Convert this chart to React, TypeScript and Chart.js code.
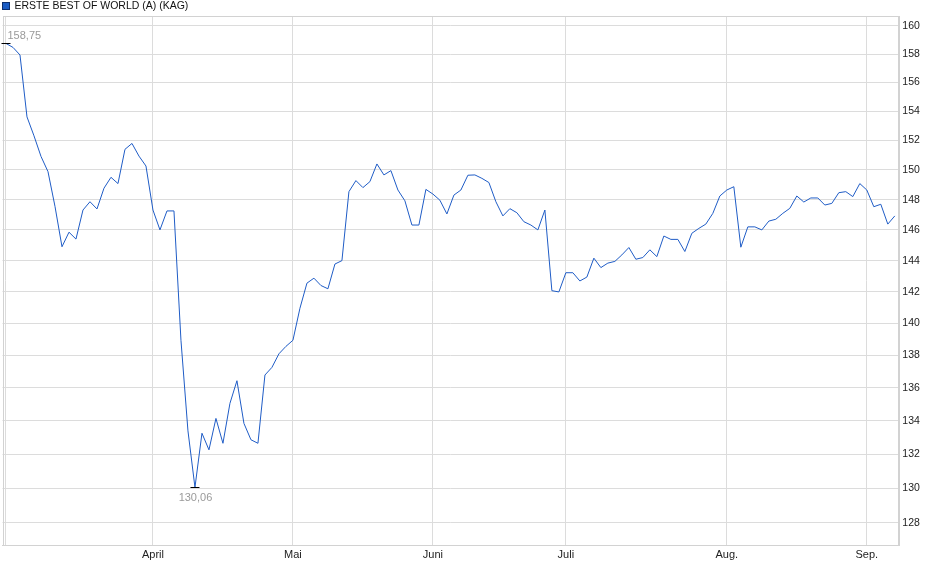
import { useEffect, useRef } from "react";
import { Chart, registerables } from "chart.js";

Chart.register(...registerables);

const seriesName = "ERSTE BEST OF WORLD (A) (KAG)";

// daily prices, first trading day of March up to the first week of September
const prices = [
  158.75, 158.47, 157.93, 153.6, 152.3, 150.9, 149.87, 147.55, 144.9, 145.85,
  145.4, 147.31, 147.86, 147.38, 148.76, 149.49, 149.07, 151.38, 151.78, 150.92,
  150.25, 147.31, 146.0, 147.25, 147.25, 138.94, 133.4, 130.06, 133.26, 132.27,
  134.15, 132.66, 135.06, 136.44, 133.85, 132.87, 132.66, 136.79, 137.26, 138.1,
  138.56, 138.94, 140.95, 142.55, 142.87, 142.4, 142.19, 143.78, 144.0, 148.53,
  149.27, 148.8, 149.2, 150.39, 149.65, 149.94, 148.64, 147.92, 146.32, 146.32,
  148.68, 148.37, 147.96, 147.05, 148.3, 148.64, 149.63, 149.65, 149.42, 149.14,
  147.86, 146.92, 147.4, 147.13, 146.54, 146.32, 146.0, 147.31, 142.07, 141.99,
  143.22, 143.22, 142.69, 142.94, 144.16, 143.55, 143.84, 143.95, 144.37, 144.85,
  144.09, 144.2, 144.7, 144.26, 145.6, 145.38, 145.38, 144.59, 145.78, 146.1,
  146.38, 147.09, 148.24, 148.64, 148.86, 144.87, 146.2, 146.2, 146.0, 146.58,
  146.7, 147.09, 147.42, 148.24, 147.84, 148.11, 148.11, 147.64, 147.75, 148.46,
  148.53, 148.2, 149.07, 148.64, 147.53, 147.69, 146.38, 146.92,
];

const monthLabels = ["", "April", "Mai", "Juni", "Juli", "Aug.", "Sep."];
const monthStarts = [0, 21, 41, 61, 80, 103, 123];
const yTicks = [128, 130, 132, 134, 136, 138, 140, 142, 144, 146, 148, 150, 152, 154, 156, 158, 160];

const FONT = '"Liberation Sans", Arial, sans-serif';
const GRID = "#dcdcdc";
const LINE = "#1f5cc6";

const fmt = (v: number) => v.toFixed(2).replace(".", ",");

const framePlugin = {
  id: "frame",
  beforeDatasetsDraw(chart: any) {
    const { ctx, chartArea: a } = chart;
    ctx.save();
    ctx.strokeStyle = "#d2d2d2";
    ctx.lineWidth = 1;
    ctx.strokeRect(Math.round(a.left) + 0.5, Math.round(a.top) + 0.5, Math.round(a.right - a.left), Math.round(a.bottom - a.top));
    ctx.restore();
  },
  afterDraw(chart: any) {
    const { ctx } = chart;
    ctx.save();
    // legend
    ctx.fillStyle = "#1a5cc4";
    ctx.fillRect(2.5, 2.5, 7, 7);
    ctx.strokeStyle = "#0d2f6e";
    ctx.lineWidth = 1;
    ctx.strokeRect(2.5, 2.5, 7, 7);
    ctx.fillStyle = "#111";
    ctx.font = `10.5px ${FONT}`;
    ctx.textBaseline = "middle";
    ctx.textAlign = "left";
    ctx.fillText(seriesName, 14.5, 6.5);

    // min / max annotations
    ctx.font = `11px ${FONT}`;
    const xs = chart.scales.x;
    const ys = chart.scales.y;
    let iMax = 0;
    let iMin = 0;
    prices.forEach((v, i) => {
      if (v > prices[iMax]) iMax = i;
      if (v < prices[iMin]) iMin = i;
    });
    const drawMark = (i: number) => {
      const px = xs.getPixelForValue(i);
      const py = Math.round(ys.getPixelForValue(prices[i])) + 0.5;
      ctx.strokeStyle = "#000";
      ctx.beginPath();
      ctx.moveTo(px - 4.5, py);
      ctx.lineTo(px + 4.5, py);
      ctx.stroke();
      return { px, py };
    };
    ctx.fillStyle = "#9a9a9a";
    const mx = drawMark(iMax);
    ctx.textAlign = "left";
    ctx.fillText(fmt(prices[iMax]), mx.px + 1.5, mx.py - 8);
    const mn = drawMark(iMin);
    ctx.textAlign = "center";
    ctx.fillText(fmt(prices[iMin]), mn.px + 0.5, mn.py + 10);
    ctx.restore();
  },
};

export default function App() {
  const ref = useRef<HTMLCanvasElement | null>(null);

  useEffect(() => {
    if (!ref.current) return;
    const chart = new Chart(ref.current, {
      type: "line",
      data: {
        datasets: [
          {
            label: seriesName,
            data: prices.map((v, i) => ({ x: i, y: v })),
            borderColor: LINE,
            borderWidth: 1,
            pointRadius: 0,
            tension: 0,
            fill: false,
          },
        ],
      },
      options: {
        animation: false,
        responsive: true,
        maintainAspectRatio: false,
        layout: { padding: { top: 16, left: 2.5, right: 0, bottom: 0 } },
        plugins: { legend: { display: false }, tooltip: { enabled: false } },
        scales: {
          x: {
            type: "linear",
            min: -0.5,
            max: 127.5,
            afterBuildTicks: (s: any) => {
              s.ticks = monthStarts.map((v) => ({ value: v }));
            },
            afterFit: (s: any) => {
              s.height = 33.7;
            },
            ticks: {
              autoSkip: false,
              maxRotation: 0,
              padding: 3,
              color: "#222",
              font: { family: FONT, size: 11 },
              callback: (v: any) => {
                const k = monthStarts.indexOf(Number(v));
                return k >= 0 ? monthLabels[k] : "";
              },
            },
            grid: { color: GRID, drawTicks: false },
            border: { color: "#d2d2d2" },
          },
          y: {
            type: "logarithmic",
            position: "right",
            min: 126.72,
            max: 160.72,
            afterBuildTicks: (s: any) => {
              s.ticks = yTicks.map((v) => ({ value: v }));
            },
            afterFit: (s: any) => {
              s.width = 41.7;
            },
            ticks: {
              autoSkip: false,
              padding: 4,
              color: "#222",
              font: { family: FONT, size: 10.5 },
              callback: (v: any) => String(v),
            },
            grid: { color: GRID, drawTicks: false },
            border: { color: "#d2d2d2" },
          },
        },
      },
      plugins: [framePlugin],
    });
    return () => chart.destroy();
  }, []);

  return (
    <div style={{ position: "fixed", left: 0, top: 0, width: 940, height: 579, background: "#fff" }}>
      <canvas ref={ref} />
    </div>
  );
}
